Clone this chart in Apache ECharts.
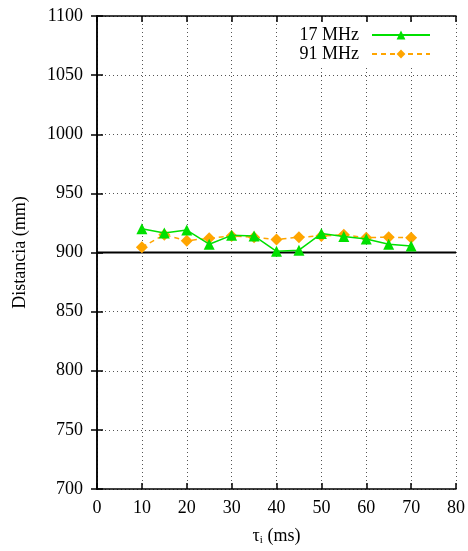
<!DOCTYPE html>
<html><head><meta charset="utf-8">
<script src="https://cdn.jsdelivr.net/npm/echarts@6/dist/echarts.min.js"></script>
<style>html,body{margin:0;padding:0;background:#fff}#c{width:468px;height:551px}</style>
</head><body><div id="c"></div>
<script>
const xValues = [10,15,20,25,30,35,40,45,50,55,60,65,70];
const s17 = [920,916.5,919,907,914.5,914,901,902,916,913.5,911.5,907,905.5];
const s91 = [904.5,915,910,912,914,913,911,913,914,915,912.5,913,912.5];
const refValue = 900;
const xTicks = [0,10,20,30,40,50,60,70,80];
const yTicks = [700,750,800,850,900,950,1000,1050,1100];
const FONT = '"Liberation Serif", "DejaVu Serif", serif';
const chart = echarts.init(document.getElementById('c'));
const axisLine = {show:true, lineStyle:{color:'#000', width:1.5}};
const split = {show:true, lineStyle:{color:'#555', type:[1,3], width:1}};
chart.setOption({
  animation:false,
  textStyle:{fontFamily:FONT},
  grid:{left:97, right:8, top:16, bottom:61},
  legend:{
    right:33, top:23, orient:'vertical', align:'right', itemWidth:58, itemHeight:11, itemGap:1,
    padding:[3,4,3,10], backgroundColor:'#fff',
    textStyle:{fontFamily:FONT, fontSize:18, color:'#000', padding:[0,8,0,0]},
    data:['17 MHz','91 MHz']
  },
  xAxis:[{
    type:'value', min:xTicks[0], max:xTicks[xTicks.length-1], interval:10,
    axisLine, axisTick:{show:true, inside:true, length:6, lineStyle:{color:'#000', width:1.5}},
    axisLabel:{fontFamily:FONT, fontSize:18, color:'#000', margin:10},
    splitLine:split,
    name:'{t|τ}{s|i}{t| (ms)}', nameLocation:'middle', nameGap:38,
    nameTextStyle:{rich:{t:{fontFamily:FONT, fontSize:18, color:'#000'}, s:{fontFamily:FONT, fontSize:11, color:'#000', padding:[8,0,0,0]}}}
  },{
    type:'value', position:'top', min:xTicks[0], max:xTicks[xTicks.length-1], interval:10,
    axisLine, axisTick:{show:true, inside:true, length:6, lineStyle:{color:'#000', width:1.5}},
    axisLabel:{show:false}, splitLine:{show:false}
  }],
  yAxis:[{
    type:'value', min:yTicks[0], max:yTicks[yTicks.length-1], interval:50,
    axisLine, axisTick:{show:true, inside:true, length:6, lineStyle:{color:'#000', width:1.5}},
    axisLabel:{fontFamily:FONT, fontSize:18, color:'#000', margin:14, formatter:v=>String(v)},
    splitLine:split,
    name:'Distancia (mm)', nameLocation:'middle', nameGap:68,
    nameTextStyle:{fontFamily:FONT, fontSize:18, color:'#000'}
  },{
    type:'value', position:'right', min:yTicks[0], max:yTicks[yTicks.length-1], interval:50,
    axisLine, axisTick:{show:true, inside:true, length:6, lineStyle:{color:'#000', width:1.5}},
    axisLabel:{show:false}, splitLine:{show:false}
  }],
  series:[
    {name:'ref', type:'line', data:[[xTicks[0],refValue],[xTicks[xTicks.length-1],refValue]], symbol:'none',
     lineStyle:{color:'#000', width:2}, silent:true, z:1},
    {name:'17 MHz', type:'line', data:xValues.map((x,i)=>[x,s17[i]]), symbol:'triangle', symbolSize:11,
     itemStyle:{color:'#00e000'}, lineStyle:{color:'#00e000', width:1.5}, z:3},
    {name:'91 MHz', type:'line', data:xValues.map((x,i)=>[x,s91[i]]), symbol:'diamond', symbolSize:12,
     itemStyle:{color:'#ffa500'}, lineStyle:{color:'#ffa500', width:1.5, type:[5,4]}, z:2}
  ]
});
</script></body></html>
